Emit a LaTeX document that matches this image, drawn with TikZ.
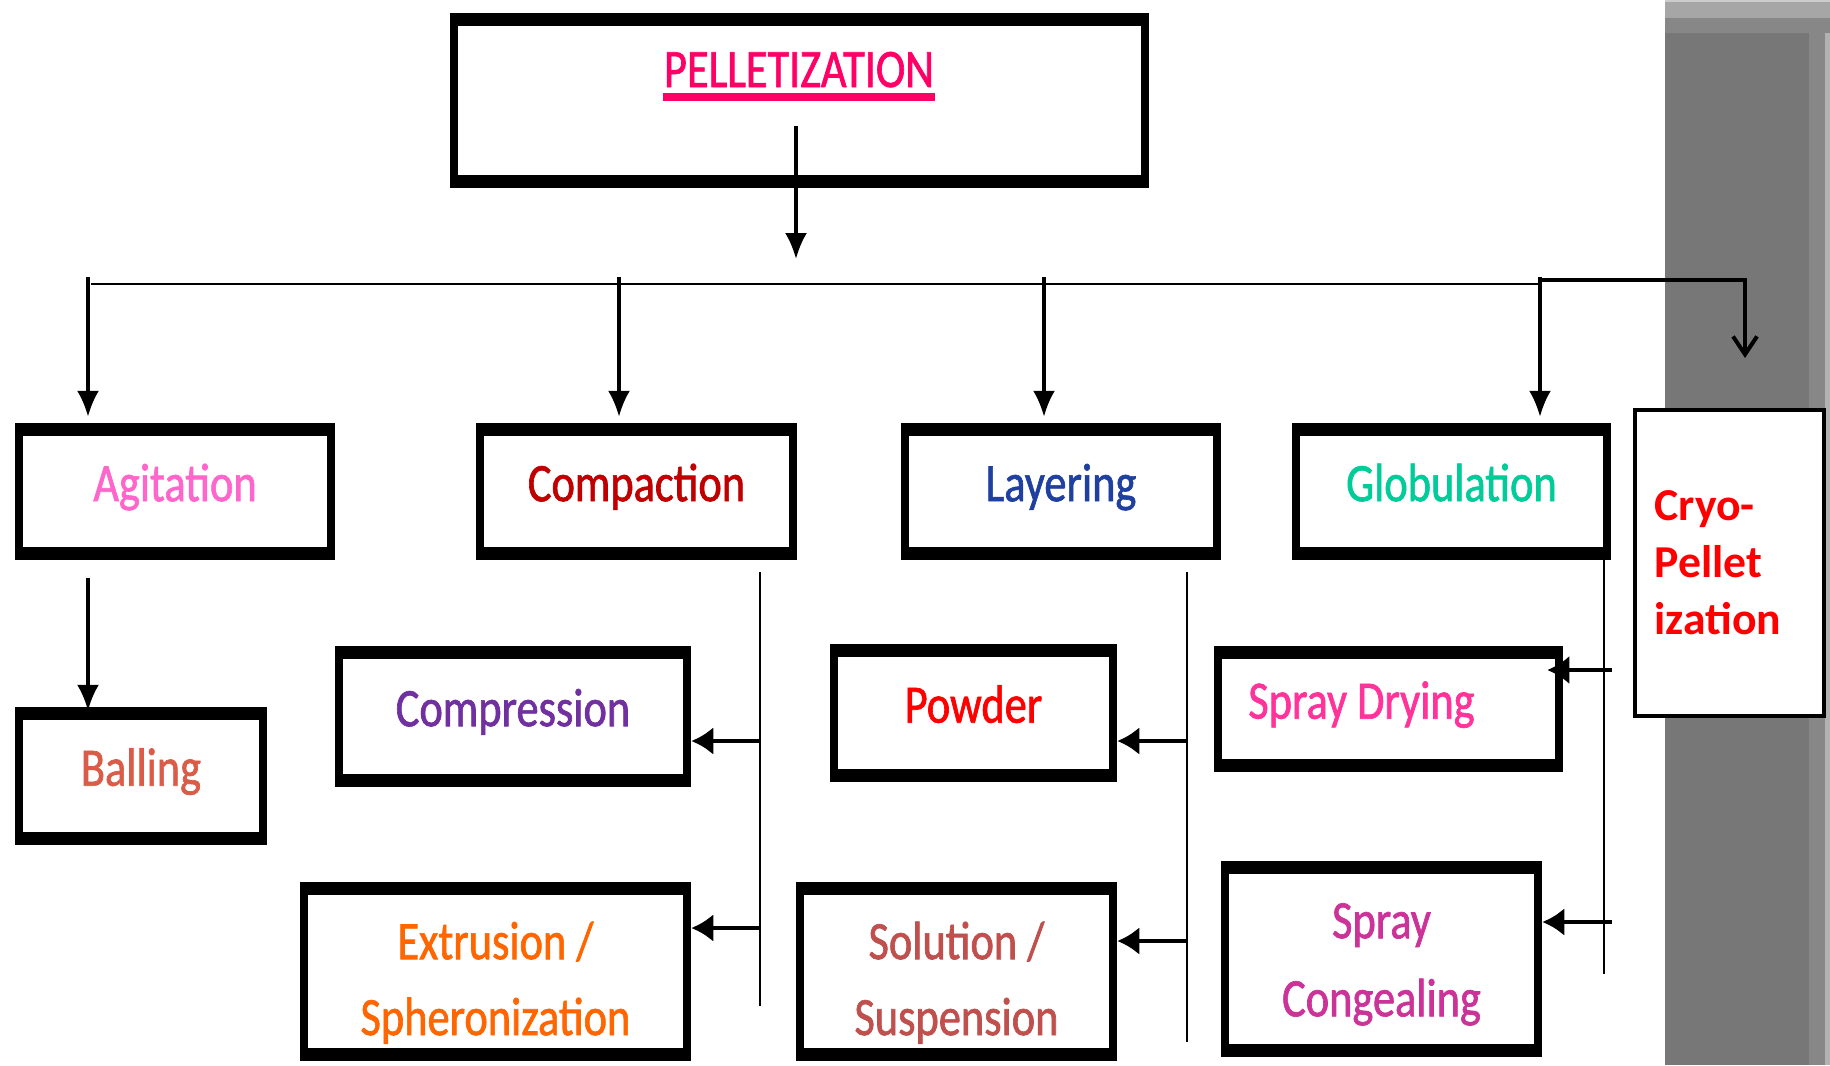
\documentclass[tikz,border=0pt]{standalone}
\usepackage{fontspec}
\setmainfont{Carlito}[FakeStretch=0.82,FakeBold=1.2]
\newfontfamily\cryofont{Carlito}
\usetikzlibrary{arrows.meta}

\definecolor{pelletred}{RGB}{255,0,102}
\definecolor{agitpink}{RGB}{255,102,204}
\definecolor{compred}{RGB}{192,0,0}
\definecolor{layblue}{RGB}{31,64,160}
\definecolor{globgreen}{RGB}{0,204,153}
\definecolor{ballcoral}{RGB}{218,92,72}
\definecolor{comprpurple}{RGB}{112,48,160}
\definecolor{powderred}{RGB}{255,0,0}
\definecolor{extorange}{RGB}{255,102,0}
\definecolor{solbrown}{RGB}{192,80,77}
\definecolor{drypink}{RGB}{255,51,153}
\definecolor{congmagenta}{RGB}{204,51,153}
\definecolor{bandgray}{RGB}{119,119,119}

\tikzset{
    procbox/.style={draw, line width=0.085cm, fill=white, inner sep=0pt, align=center,
        text height=11pt, text depth=5.5pt, font=\fontsize{15.4}{21.6}\selectfont,
        path picture={
            \fill[black] (path picture bounding box.north west) rectangle ([yshift=-0.09cm]path picture bounding box.north east);
            \fill[black] (path picture bounding box.south west) rectangle ([yshift=0.09cm]path picture bounding box.south east);
        }},
    drop/.style={line width=0.9pt, -{Latex[length=0.26cm,width=0.22cm]}},
    feed/.style={line width=1.4pt, -{Latex[length=0.22cm,width=0.28cm]}},
    rail/.style={line width=0.6pt}
}

\begin{document}
\begin{tikzpicture}[y=-1cm]
    \useasboundingbox (0,0) rectangle (18.3,10.65);

    % grey band on the right
    \fill[bandgray] (16.65,0) rectangle (18.3,10.65);
    \fill[black!47] (18.09,0) rectangle (18.25,10.65);
    \fill[black!30] (18.25,0) rectangle (18.3,10.65);
    \fill[black!35] (16.65,0) rectangle (18.3,0.18);
    \fill[black!47] (16.65,0.18) rectangle (18.3,0.33);
    \fill[black!20] (16.65,0) rectangle (18.3,0.02);

    % top box
    \node[procbox, minimum width=6.91cm, minimum height=1.67cm] (pellet) at (7.995,1.005) {};
    \node[anchor=base, inner sep=0pt, text=pelletred, font=\fontsize{15.4}{18}\selectfont]
        (ptitle) at (7.99,0.87) {PELLETIZATION};
    \draw[pelletred, line width=0.08cm] ([yshift=-0.10cm]ptitle.base west) -- ([yshift=-0.10cm]ptitle.base east);

    % first row
    \node[procbox, minimum width=3.12cm, minimum height=1.29cm, text=agitpink] (agit) at (1.75,4.915) {Agitation};
    \node[procbox, minimum width=3.13cm, minimum height=1.29cm, text=compred] (compact) at (6.365,4.915) {Compaction};
    \node[procbox, minimum width=3.12cm, minimum height=1.29cm, text=layblue] (layer) at (10.61,4.915) {Layering};
    \node[procbox, minimum width=3.11cm, minimum height=1.29cm, text=globgreen] (glob) at (14.515,4.915) {Globulation};
    \node[draw, line width=0.04cm, fill=white, inner sep=0pt, minimum width=1.89cm, minimum height=3.06cm,
        text width=1.5cm, align=left, text=powderred, font=\cryofont\bfseries\fontsize{13}{16.2}\selectfont]
        (cryo) at (17.295,5.63) {Cryo-\\Pellet\\ization};

    % second and third rows
    \node[procbox, minimum width=2.44cm, minimum height=1.30cm, text=ballcoral] (ball) at (1.41,7.76) {Balling};
    \node[procbox, minimum width=3.48cm, minimum height=1.33cm, text=comprpurple] (compr) at (5.13,7.165) {Compression};
    \node[procbox, minimum width=2.79cm, minimum height=1.30cm, text=powderred] (powder) at (9.735,7.13) {Powder};
    \node[procbox, minimum width=3.41cm, minimum height=1.18cm, text=drypink] (sdry) at (13.885,7.09) {Spray Drying\hspace*{0.54cm}};
    \node[procbox, minimum width=3.83cm, minimum height=1.71cm, text height=40pt, text depth=3.8pt, text=extorange] (extru) at (4.955,9.715) {Extrusion /\\Spheronization};
    \node[procbox, minimum width=3.13cm, minimum height=1.71cm, text height=40pt, text depth=3.8pt, text=solbrown] (solu) at (9.565,9.715) {Solution /\\Suspension};
    \node[procbox, minimum width=3.13cm, minimum height=1.88cm, text height=38pt, text depth=5.4pt, text=congmagenta,
        font=\fontsize{15.4}{22.2}\selectfont] (scong) at (13.815,9.59) {Spray\\Congealing};

    % connectors
    \coordinate (pstem) at (7.96,1.26);
    \coordinate (pjoin) at (7.96,2.59);
    \coordinate (busL) at (0.91,2.84);
    \coordinate (busR) at (15.40,2.84);
    \coordinate (dA) at (0.88,2.77);
    \coordinate (dB) at (6.19,2.77);
    \coordinate (dC) at (10.44,2.77);
    \coordinate (dD) at (15.40,2.77);
    \coordinate (bend) at (17.45,2.80);
    \coordinate (cryotip) at (17.45,3.58);
    \coordinate (dE) at (0.88,5.78);

    \draw[drop] (pstem) -- (pjoin);
    \draw[rail] (busL) -- (busR);
    \draw[drop, shorten >=0.06cm] (dA) -- (dA |- agit.north);
    \draw[drop, shorten >=0.06cm] (dB) -- (dB |- compact.north);
    \draw[drop, shorten >=0.06cm] (dC) -- (dC |- layer.north);
    \draw[drop, shorten >=0.06cm] (dD) -- (dD |- glob.north);
    \draw[line width=0.04cm, -{Straight Barb[length=0.18cm,width=0.24cm]}] (15.40,2.80) -- (bend) -- (cryotip);
    \draw[drop, shorten >=-0.04cm] (dE) -- (dE |- ball.north);

    % side branches
    \coordinate (kA) at (7.60,5.72);
    \coordinate (kB) at (7.60,10.06);
    \coordinate (k1) at (7.60,7.41);
    \coordinate (k2) at (7.60,9.28);
    \draw[rail] (kA) -- (kB);
    \draw[feed] (k1) -- (k1 -| compr.east);
    \draw[feed] (k2) -- (k2 -| extru.east);

    \coordinate (mA) at (11.87,5.72);
    \coordinate (mB) at (11.87,10.42);
    \coordinate (m1) at (11.87,7.41);
    \coordinate (m2) at (11.87,9.41);
    \draw[rail] (mA) -- (mB);
    \draw[feed] (m1) -- (m1 -| powder.east);
    \draw[feed] (m2) -- (m2 -| solu.east);

    \coordinate (gA) at (16.04,5.49);
    \coordinate (gB) at (16.04,9.74);
    \coordinate (g1) at (16.12,6.70);
    \coordinate (g2) at (16.12,9.22);
    \draw[rail] (gA) -- (gB);
    \draw[feed, line width=0.9pt, shorten >=-0.16cm] (g1) -- (g1 -| sdry.east);
    \draw[feed] (g2) -- (g2 -| scong.east);
\end{tikzpicture}
\end{document}
